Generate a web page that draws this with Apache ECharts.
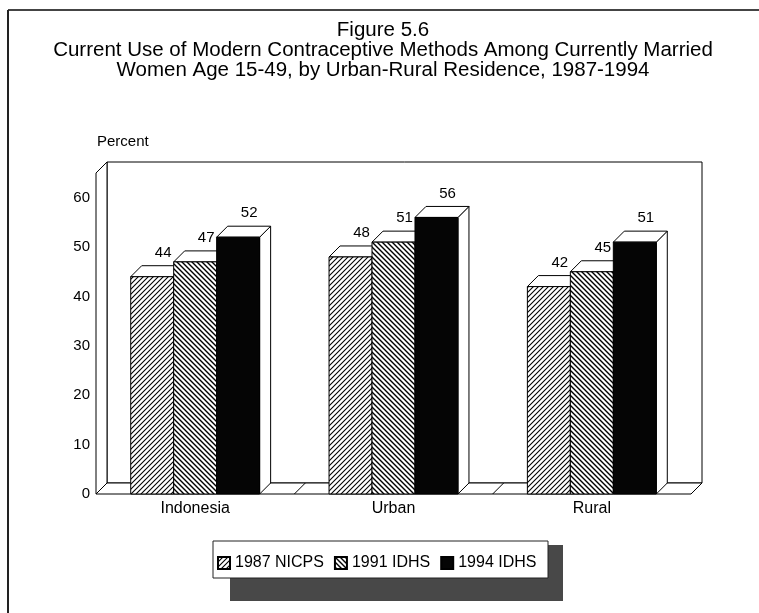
<!DOCTYPE html>
<html><head><meta charset="utf-8">
<script src="https://cdn.jsdelivr.net/npm/echarts@6/dist/echarts.min.js"></script>
<style>html,body{margin:0;padding:0;background:#fff}#c{width:759px;height:613px}</style>
</head><body><div id="c"></div>
<script>
const categories = ['Indonesia', 'Urban', 'Rural'];
const seriesNames = ['1987 NICPS', '1991 IDHS', '1994 IDHS'];
const nicps1987 = [44, 48, 42];
const idhs1991 = [47, 51, 45];
const idhs1994 = [52, 56, 51];
const yTickValues = [0, 10, 20, 30, 40, 50, 60];
const yMax = 65;

const FONT = '"Liberation Sans", Arial, Helvetica, sans-serif';
const DEPTH = 11;
const BAR_FRAC = 0.65;

function hatch(forward, p, lw) {
  const c = document.createElement('canvas');
  c.width = p; c.height = p;
  const g = c.getContext('2d');
  g.fillStyle = '#fff'; g.fillRect(0, 0, p, p);
  g.strokeStyle = '#000'; g.lineWidth = lw;
  g.beginPath();
  if (forward) {
    g.moveTo(0, p); g.lineTo(p, 0);
    g.moveTo(-1, 1); g.lineTo(1, -1);
    g.moveTo(p - 1, p + 1); g.lineTo(p + 1, p - 1);
  } else {
    g.moveTo(0, 0); g.lineTo(p, p);
    g.moveTo(-1, p - 1); g.lineTo(1, p + 1);
    g.moveTo(p - 1, -1); g.lineTo(p + 1, 1);
  }
  g.stroke();
  return { image: c, repeat: 'repeat' };
}
const fills = [hatch(true, 5, 1.1), hatch(false, 5, 1.4), '#050505'];
const seriesData = [nicps1987, idhs1991, idhs1994];

function barRenderer(sIdx) {
  return function (params, api) {
    const cat = api.value(0), val = api.value(1);
    const top = api.coord([cat, val]);
    const base = api.coord([cat, 0]);
    const bandW = api.size([1, 0])[0];
    const bw = bandW * BAR_FRAC / 3;
    const x0 = top[0] - bw * 1.5 + sIdx * bw;
    const x1 = x0 + bw;
    const yt = top[1], yb = base[1];
    const D = DEPTH;
    const line = { stroke: '#000', lineWidth: 1 };
    return {
      type: 'group',
      children: [
        { type: 'polygon', shape: { points: [[x1, yt], [x1 + D, yt - D], [x1 + D, yb - D], [x1, yb]] },
          style: Object.assign({ fill: '#fff' }, line) },
        { type: 'polygon', shape: { points: [[x0, yt], [x1, yt], [x1 + D, yt - D], [x0 + D, yt - D]] },
          style: Object.assign({ fill: '#fff' }, line) },
        { type: 'rect', shape: { x: x0, y: yt, width: bw, height: yb - yt },
          style: Object.assign({ fill: fills[sIdx] }, line) },
        { type: 'text', style: { text: String(val), x: x0 + bw / 2 + D, y: yt - D - 13,
          align: 'center', verticalAlign: 'middle', fill: '#000', font: '15px ' + FONT } }
      ]
    };
  };
}

function frameRenderer(params, api) {
  const cs = params.coordSys;
  const D = DEPTH;
  const y0 = api.coord([0, 0])[1];
  const yT = api.coord([0, yMax])[1];
  const xl = cs.x, xr = cs.x + cs.width;
  const bandW = api.size([1, 0])[0];
  const line = { stroke: '#000', lineWidth: 1, fill: '#fff' };
  const children = [
    { type: 'rect', shape: { x: xl + D, y: yT - D, width: xr - xl, height: y0 - yT }, style: line },
    { type: 'polygon', shape: { points: [[xl, y0], [xl, yT], [xl + D, yT - D], [xl + D, y0 - D]] }, style: line },
    { type: 'polygon', shape: { points: [[xl, y0], [xr, y0], [xr + D, y0 - D], [xl + D, y0 - D]] }, style: line }
  ];
  for (let k = 1; k < categories.length; k++) {
    const xb = api.coord([k, 0])[0] - bandW / 2;
    children.push({ type: 'line', shape: { x1: xb, y1: y0, x2: xb + D, y2: y0 - D }, style: { stroke: '#000', lineWidth: 1 } });
  }
  return { type: 'group', children };
}

const chart = echarts.init(document.getElementById('c'), null, { renderer: 'canvas' });
const series = [{
  type: 'custom', name: 'frame', renderItem: frameRenderer, data: [[0, 0]], silent: true, z: 1,
  encode: { x: 0, y: 1 }
}];
seriesNames.forEach((n, i) => {
  series.push({
    type: 'custom', name: n, renderItem: barRenderer(i), z: 2,
    itemStyle: { color: fills[i], borderColor: '#000', borderWidth: 1 },
    encode: { x: 0, y: 1 },
    data: seriesData[i].map((v, j) => [j, v])
  });
});

chart.setOption({
  animation: false,
  backgroundColor: '#fff',
  title: {
    text: 'Figure 5.6\nCurrent Use of Modern Contraceptive Methods Among Currently Married\nWomen Age 15-49, by Urban-Rural Residence, 1987-1994',
    left: 383, top: 20, textAlign: 'center', padding: 0,
    textStyle: { fontFamily: FONT, fontSize: 20.5, fontWeight: 'normal', lineHeight: 20, color: '#000' }
  },
  grid: { left: 96, right: 68, top: 173, bottom: 119 },
  xAxis: {
    type: 'category', data: categories,
    axisLine: { show: false }, axisTick: { show: false }, splitLine: { show: false },
    axisLabel: { margin: 7, fontFamily: FONT, fontSize: 16, color: '#000' }
  },
  yAxis: {
    type: 'value', min: 0, max: yMax, interval: 10,
    axisLine: { show: false }, axisTick: { show: false }, splitLine: { show: false },
    axisLabel: { margin: 6, fontFamily: FONT, fontSize: 15, color: '#000',
      formatter: v => (yTickValues.indexOf(v) >= 0 ? String(v) : '') }
  },
  legend: {
    data: seriesNames, left: 217, top: 555, padding: 0, icon: 'rect', itemWidth: 12, itemHeight: 12, itemGap: 10,
    textStyle: { fontFamily: FONT, fontSize: 16, color: '#000' },
    selectedMode: false
  },
  graphic: [
    { type: 'line', shape: { x1: 8, y1: 10, x2: 759, y2: 10 }, style: { stroke: '#444', lineWidth: 2 } },
    { type: 'line', shape: { x1: 8, y1: 10, x2: 8, y2: 613 }, style: { stroke: '#222', lineWidth: 2 } },
    { type: 'text', left: 97, top: 134, style: { text: 'Percent', font: '15px ' + FONT, fill: '#000' } },
    { type: 'rect', shape: { x: 230, y: 545, width: 333, height: 56 }, style: { fill: '#484848' }, z: -1 },
    { type: 'rect', shape: { x: 213, y: 541, width: 335, height: 37 }, style: { fill: '#fff', stroke: '#222', lineWidth: 1 }, z: -1 }
  ],
  series
});
</script></body></html>
